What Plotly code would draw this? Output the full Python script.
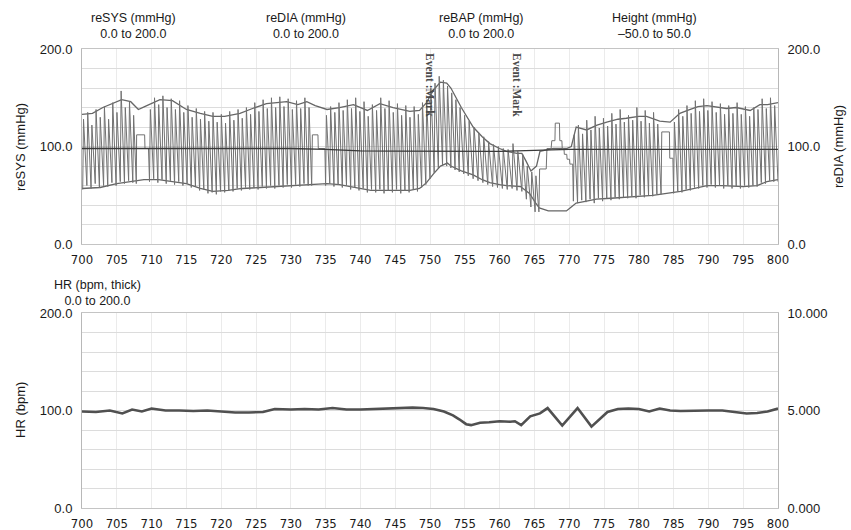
import plotly.graph_objects as go

# ---------------- data ----------------
x_tick_vals = [700, 705, 710, 715, 720, 725, 730, 735, 740, 745, 750,
               755, 760, 765, 770, 775, 780, 785, 790, 795, 800]
x_tick_text = [str(v) for v in x_tick_vals]

mmhg_grid_vals = [0, 20, 40, 60, 80, 100, 120, 140, 160, 180, 200]
mmhg_grid_text = ["0.0", "", "", "", "", "100.0", "", "", "", "", "200.0"]
hr_right_vals = [0, 1, 2, 3, 4, 5, 6, 7, 8, 9, 10]
hr_right_text = ["0.000", "", "", "", "", "5.000", "", "", "", "", "10.000"]

# reSYS envelope (mmHg)
sys_t = [700, 701.5, 703, 705.7, 707, 708.1, 709, 711.2, 713, 715, 717, 718.8, 720.5,
         722.7, 724.5, 726.5, 728, 729.4, 731, 732.3, 733.5, 735.2, 737, 739, 741,
         742.8, 744.7, 746, 747.1, 748.5, 749.5, 750.5, 751.5, 752.4, 753, 754.5,
         756.2, 757.5, 758.6, 760, 761, 762.5, 763.2, 763.8, 764.5, 765.3, 765.8,
         767.7, 769.6, 770.3, 771, 772.5, 774, 775.4, 777, 778.2, 780, 781.1, 782,
         783, 784.5, 785.9, 787, 788.5, 789.8, 791, 792.6, 794, 796, 797.4, 798.5, 800]
sys_v = [133, 134, 140, 148, 146, 138, 141, 148, 147, 138, 134, 131, 131,
         134, 139, 144, 145, 146, 143, 146, 142, 138, 140, 143, 137,
         144, 140, 138, 136, 137, 145, 158, 166, 165, 160, 140,
         120, 110, 103, 98, 95, 93, 93, 85, 75, 80, 95,
         98, 98, 100, 120, 117, 122, 125, 128, 129, 131, 131, 129,
         126, 125, 134, 137, 141, 142, 141, 139, 140, 137, 143, 143, 145]

# reDIA envelope (mmHg)
dia_t = [700, 702.6, 705, 707, 708.9, 711, 713, 715, 717, 718.8, 721, 723, 725.6,
         728, 730.4, 733, 735.2, 737, 739, 741.5, 744, 747.1, 748.5, 749.5, 750.5,
         751.5, 752.5, 753, 754.5, 756.2, 757.5, 758.6, 760, 761, 763, 764.3, 765.2,
         765.7, 767, 769.6, 770.3, 771, 772.5, 773.9, 776, 778, 780.2, 782, 784, 786,
         788, 789.8, 792, 795, 797, 798.4, 800]
dia_v = [57, 58, 62, 64, 66, 66, 64, 62, 57, 54, 55, 57, 58,
         59, 60, 61, 62, 61, 58, 55, 55, 55, 57, 63, 72,
         80, 83, 80, 75, 71, 66, 63, 61, 60, 59, 52, 42,
         37, 34, 34, 38, 42, 44, 46, 47, 48, 49, 50, 52, 54,
         57, 60, 60, 59, 60, 64, 66]

# reBAP beats: onset time (s), systolic peak, diastolic trough (mmHg)
beat_t = [700.1, 700.7, 701.3, 701.9, 702.5, 703.1, 703.7, 704.3, 704.9, 705.5, 706.1, 706.7, 707.3,
          709.7, 710.3, 710.9, 711.5, 712.1, 712.7, 713.3, 713.9, 714.5, 715.1,
          715.7, 716.3, 716.9, 717.5, 718.1, 718.7, 719.3, 719.9, 720.5, 721.1,
          721.7, 722.3, 722.9, 723.5, 724.1, 724.7, 725.3, 725.9, 726.5, 727.1,
          727.7, 728.3, 728.9, 729.5, 730.1, 730.7, 731.3, 731.9, 732.5,
          735.0, 735.6, 736.2, 736.8, 737.4, 738.0, 738.6, 739.2, 739.8, 740.4,
          741.0, 741.6, 742.2, 742.8, 743.4, 744.0, 744.6, 745.2, 745.8, 746.4,
          747.0, 747.6, 748.2, 748.8, 749.4, 750.0, 750.6, 751.2, 751.8, 752.4,
          753.0, 753.6, 754.2, 754.85, 755.5, 756.2, 756.9, 757.6, 758.3, 759.0,
          759.7, 760.4, 761.1, 761.8, 762.5, 763.2, 763.85, 764.5, 765.1,
          770.6, 771.2, 771.8, 772.4, 773.0, 773.6, 774.2, 774.8, 775.4, 776.0,
          776.6, 777.2, 777.8, 778.4, 779.0, 779.6, 780.2, 780.8, 781.4, 782.0, 782.6,
          785.0, 785.6, 786.2, 786.8, 787.4, 788.0, 788.6, 789.2, 789.8, 790.4,
          791.0, 791.6, 792.2, 792.8, 793.4, 794.0, 794.6, 795.2, 795.8, 796.4,
          797.0, 797.6, 798.2, 798.8, 799.4]
beat_peak = [128, 135, 122, 138, 130, 141, 128, 145, 135, 157, 140, 146, 132,
             138, 150, 143, 152, 140, 149, 138, 147, 135, 142,
             130, 139, 128, 136, 126, 135, 125, 133, 124, 136,
             127, 138, 129, 140, 133, 145, 136, 148, 139, 150,
             140, 151, 141, 149, 138, 147, 139, 150, 140,
             132, 141, 135, 145, 137, 148, 139, 150, 136, 146,
             131, 143, 137, 150, 139, 147, 135, 144, 132, 142,
             130, 141, 133, 145, 148, 160, 165, 172, 168, 162,
             155, 148, 140, 132, 126, 120, 114, 110, 105, 102,
             100, 98, 97, 103, 95, 92, 80, 74, 70,
             112, 122, 113, 127, 117, 131, 119, 129, 121, 134,
             123, 138, 125, 132, 127, 140, 126, 137, 124, 135, 123,
             125, 138, 131, 142, 134, 147, 136, 149, 137, 146,
             135, 144, 133, 142, 134, 145, 133, 141, 131, 140,
             138, 149, 139, 150, 142]
beat_trough = [56, 60, 57, 62, 58, 60, 59, 63, 60, 64, 62, 65, 63,
               64, 67, 63, 66, 62, 65, 61, 64, 60, 62,
               58, 59, 55, 56, 52, 53, 51, 54, 53, 55,
               54, 57, 55, 58, 56, 58, 56, 59, 57, 60,
               57, 60, 58, 61, 58, 61, 59, 62, 60,
               60, 62, 59, 61, 58, 60, 56, 58, 55, 57,
               53, 56, 53, 56, 52, 55, 53, 56, 52, 55,
               53, 56, 54, 58, 61, 67, 73, 78, 81, 80,
               78, 76, 74, 72, 70, 67, 65, 63, 61, 59,
               58, 57, 56, 57, 55, 54, 46, 38, 33,
               44, 42, 45, 43, 46, 42, 47, 44, 47, 45,
               48, 46, 48, 47, 49, 47, 50, 48, 50, 49, 51,
               52, 54, 53, 56, 55, 58, 57, 60, 58, 61,
               58, 60, 57, 60, 57, 59, 57, 60, 58, 60,
               59, 63, 62, 65, 64]

# reBAP calibration (Physiocal) plateaus and end sample
cal_t = [707.8, 707.85, 709.0, 709.05, 709.55,
         733.0, 733.1, 733.9, 733.95, 734.9,
         765.65, 765.75, 766.7, 766.8, 767.4, 767.5, 767.95, 768.0, 768.6, 768.65,
         768.95, 769.0, 769.25, 769.3, 769.65, 769.7, 770.05, 770.1, 770.5,
         783.2, 783.3, 784.4, 784.45, 784.9,
         800.0]
cal_v = [62, 112, 112, 98, 98,
         60, 112, 112, 98, 98,
         33, 77, 77, 98, 98, 106, 106, 124, 124, 106,
         106, 98, 98, 92, 92, 87, 87, 82, 82,
         51, 115, 115, 88, 88,
         64]

# Height (mmHg, -50..50 scale)
height_t = [700, 705, 710, 715, 720, 725, 730, 735, 740, 745, 750, 755, 760,
            765, 770, 775, 780, 785, 790, 795, 800]
height_v = [-1.0, -1.0, -1.0, -1.2, -1.2, -1.0, -1.0, -1.5, -2.2, -2.4, -2.4, -2.5, -2.5,
            -2.0, -1.5, -1.5, -1.5, -1.5, -1.5, -1.5, -1.5]

# HR (bpm)
hr_t = [700, 702, 704, 705.8, 707.2, 708.6, 710, 712, 714, 716, 718, 720, 722, 724,
        726, 727.7, 730, 732, 734, 736, 738, 740, 742, 744, 746, 747.5, 749, 750.5,
        752, 753.3, 754.2, 755.2, 755.9, 757.2, 758.5, 760, 761.5, 762.2, 763.1,
        764.4, 765.8, 766.9, 769.0, 771.2, 773.2, 775.5, 777, 778.5, 780, 781.5,
        783, 784.5, 786, 788, 790, 792, 794, 795.5, 797, 798.5, 800]
hr_v = [99, 98.5, 100, 97, 101, 99, 102, 100, 100, 99.5, 100, 99, 98, 98,
        98.5, 101.5, 101, 101.5, 101, 102.5, 101, 101, 101.5, 102, 102, 103, 102.5, 101.5,
        99, 95, 91, 86, 85, 87.5, 88, 89, 88.5, 89, 85,
        94, 97, 102.5, 84.5, 102.5, 83.5, 98.5, 101.5, 102, 101.5, 99,
        102, 100, 99.5, 100, 100, 100, 98.5, 97, 97.5, 99, 102]

UPSTROKE = 0.12  # seconds from trough to systolic peak (drawing style)

# ---------------- build reBAP waveform ----------------
pts = []
for t, p, tr in zip(beat_t, beat_peak, beat_trough):
    pts.append((t, tr))
    pts.append((t + UPSTROKE, p))
pts += list(zip(cal_t, cal_v))
pts.sort(key=lambda a: a[0])
wave_x = [a[0] for a in pts]
wave_y = [a[1] for a in pts]

# ---------------- figure ----------------
BASE = "Liberation Sans, Arial, sans-serif"
NARROW = "Liberation Sans Narrow, DejaVu Sans Condensed, Arial Narrow, sans-serif"
TXT = "#1a1a1a"

fig = go.Figure()
fig.add_trace(go.Scatter(x=wave_x, y=wave_y, xaxis="x", yaxis="y3", mode="lines",
                         line=dict(color="#727272", width=1), name="reBAP"))
fig.add_trace(go.Scatter(x=sys_t, y=sys_v, xaxis="x", yaxis="y", mode="lines",
                         line=dict(color="#666666", width=1.3), name="reSYS"))
fig.add_trace(go.Scatter(x=dia_t, y=dia_v, xaxis="x", yaxis="y2", mode="lines",
                         line=dict(color="#666666", width=1.3), name="reDIA"))
fig.add_trace(go.Scatter(x=height_t, y=height_v, xaxis="x", yaxis="y4", mode="lines",
                         line=dict(color="#3a3a3a", width=1.3), name="Height"))
fig.add_trace(go.Scatter(x=hr_t, y=hr_v, xaxis="x2", yaxis="y5", mode="lines",
                         line=dict(color="#505050", width=2.6), name="HR"))
fig.add_trace(go.Scatter(x=[700], y=[None], xaxis="x2", yaxis="y6", mode="lines",
                         showlegend=False, hoverinfo="skip"))

TOP = [0.575, 1.0]
BOT = [0.0, 0.4248]

xcommon = dict(range=[700, 800], tickmode="array", tickvals=x_tick_vals, ticktext=x_tick_text,
               showgrid=True, gridcolor="#ebebeb", gridwidth=1, zeroline=False,
               showline=True, linecolor="#c4c4c4", linewidth=1, mirror=True,
               ticks="outside", ticklen=3, tickcolor="rgba(0,0,0,0)", automargin=False,
               tickfont=dict(family=NARROW, size=13, color=TXT), fixedrange=True)
ycommon = dict(range=[0, 200], tickmode="array", tickvals=mmhg_grid_vals, ticktext=mmhg_grid_text,
               zeroline=False, ticks="outside", ticklen=6, tickcolor="rgba(0,0,0,0)",
               automargin=False,
               tickfont=dict(family=BASE, size=13, color=TXT), fixedrange=True)

fig.update_layout(
    width=851, height=530,
    margin=dict(l=82, r=73, t=49, b=22),
    paper_bgcolor="white", plot_bgcolor="white",
    showlegend=False,
    xaxis=dict(domain=[0, 1], anchor="y", **xcommon),
    xaxis2=dict(domain=[0, 1], anchor="y5", **xcommon),
    yaxis=dict(domain=TOP, anchor="x", showgrid=True, gridcolor="#dcdcdc",
               showline=True, linecolor="#b8b8b8", mirror=True, **ycommon),
    yaxis2=dict(overlaying="y", side="right", anchor="x", showgrid=False, **ycommon),
    yaxis3=dict(overlaying="y", range=[0, 200], visible=False, fixedrange=True, automargin=False),
    yaxis4=dict(overlaying="y", range=[-50, 50], visible=False, fixedrange=True, automargin=False),
    yaxis5=dict(domain=BOT, anchor="x2", showgrid=True, gridcolor="#dcdcdc",
                showline=True, linecolor="#b8b8b8", mirror=True, **ycommon),
    yaxis6=dict(overlaying="y5", side="right", anchor="x2", range=[0, 10],
                tickmode="array", tickvals=hr_right_vals, ticktext=hr_right_text,
                showgrid=False, zeroline=False, ticks="outside", ticklen=6,
                tickcolor="rgba(0,0,0,0)", tickfont=dict(family=BASE, size=13, color=TXT),
                automargin=False, fixedrange=True),
)

def px_x(px):
    return (px - 82) / 696.0

def px_y(py):
    return (508 - py) / 459.0

headers = [
    ("reSYS (mmHg)<br>0.0 to 200.0", 133, 26),
    ("reDIA (mmHg)<br>0.0 to 200.0", 306, 26),
    ("reBAP (mmHg)<br>0.0 to 200.0", 481, 26),
    ("Height (mmHg)<br>\u201350.0 to 50.0", 654, 26),
    ("HR (bpm, thick)<br>0.0 to 200.0", 97, 293),
]
for text, hx, hy in headers:
    fig.add_annotation(text=text, xref="paper", yref="paper", x=px_x(hx), y=px_y(hy),
                       showarrow=False, xanchor="center", yanchor="middle",
                       font=dict(family=BASE, size=12.5, color=TXT), align="center")

titles = [
    ("reSYS (mmHg)", 20, 147),
    ("reDIA (mmHg)", 838, 147),
    ("HR (bpm)", 20, 410),
]
for text, tx, ty in titles:
    fig.add_annotation(text=text, xref="paper", yref="paper", x=px_x(tx), y=px_y(ty),
                       showarrow=False, textangle=-90, xanchor="center", yanchor="middle",
                       font=dict(family=BASE, size=13, color=TXT))

event_marks = [750.0, 762.5]
for ex in event_marks:
    fig.add_annotation(text="<b>Event :Mark</b>", xref="x", yref="paper", x=ex, y=px_y(51),
                       showarrow=False, textangle=90, xanchor="center", yanchor="top",
                       font=dict(family="Liberation Serif, DejaVu Serif, serif", size=11.5,
                                 color="#4a4a4a"))

# remove the default 8px page margin so the figure fills the 851x530 window exactly
fig.write_html("out.html", config={"displayModeBar": False},
               post_script="document.body.style.margin='0';document.body.style.overflow='hidden';")
